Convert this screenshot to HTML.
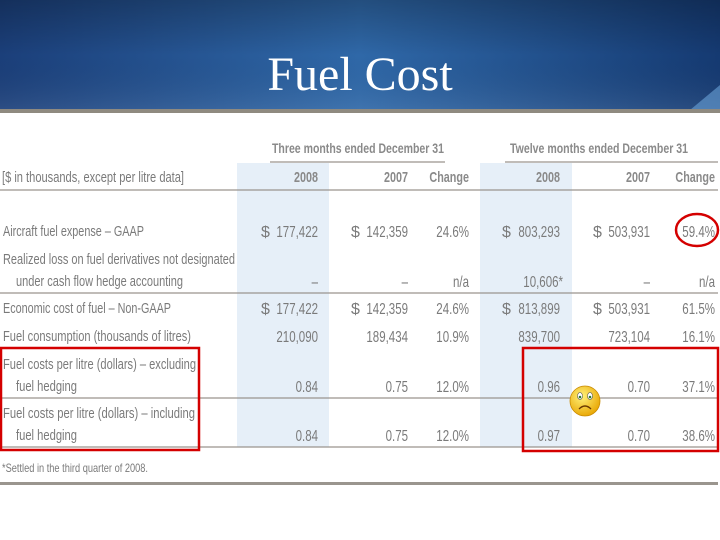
<!DOCTYPE html>
<html><head><meta charset="utf-8"><style>
html,body{margin:0;padding:0;width:720px;height:540px;overflow:hidden;background:#fff}
svg{display:block}
</style></head><body>
<svg width="720" height="540" viewBox="0 0 720 540" xmlns="http://www.w3.org/2000/svg">
<defs>
<linearGradient id="bg" x1="0" y1="0" x2="1" y2="0">
<stop offset="0" stop-color="#1b3f7a"/><stop offset="0.5" stop-color="#2f68a8"/><stop offset="1" stop-color="#153a72"/>
</linearGradient>
<linearGradient id="bgv" x1="0" y1="0" x2="0" y2="1">
<stop offset="0" stop-color="#000" stop-opacity="0.25"/><stop offset="0.5" stop-color="#000" stop-opacity="0"/><stop offset="1" stop-color="#fff" stop-opacity="0.08"/>
</linearGradient>
<radialGradient id="face" cx="0.4" cy="0.35" r="0.7"><stop offset="0" stop-color="#fff27a"/><stop offset="1" stop-color="#e8a400"/></radialGradient>
</defs>
<g>
<rect x="0" y="0" width="720" height="110" fill="url(#bg)"/>
<rect x="0" y="0" width="720" height="110" fill="url(#bgv)"/>
<path d="M690 110 L720 85 L720 110 Z" fill="#6aa3d8" opacity="0.6"/>
<rect x="0" y="109" width="720" height="4" fill="#8f8a80"/>
<text x="360" y="90" text-anchor="middle" font-family="Liberation Serif, serif" font-size="48" fill="#fff">Fuel Cost</text>
</g>
<g fill="#e6eff8">
<rect x="237" y="163" width="92" height="284"/>
<rect x="480" y="163" width="92" height="284"/>
</g>
<g stroke="#9a958e" stroke-width="1.2">
<line x1="270" y1="162" x2="445" y2="162"/>
<line x1="505" y1="162" x2="718" y2="162"/>
<line x1="0" y1="190" x2="718" y2="190"/>
<line x1="0" y1="293" x2="718" y2="293"/>
<line x1="0" y1="398" x2="718" y2="398"/>
<line x1="0" y1="447" x2="718" y2="447"/>
</g>
<rect x="0" y="482" width="718" height="3" fill="#9a958e"/>
<g font-family="Liberation Sans, sans-serif" font-size="16" fill="#7a7a7a">
<g font-weight="bold" fill="#8a8a8a" font-size="15" class="cond">
<text x="358" y="153" font-size="14" text-anchor="middle" textLength="172" lengthAdjust="spacingAndGlyphs">Three months ended December 31</text>
<text x="599" y="153" font-size="14" text-anchor="middle" textLength="178" lengthAdjust="spacingAndGlyphs">Twelve months ended December 31</text>
<text x="318" y="182" text-anchor="end">2008</text>
<text x="408" y="182" text-anchor="end">2007</text>
<text x="469" y="182" text-anchor="end">Change</text>
<text x="560" y="182" text-anchor="end">2008</text>
<text x="650" y="182" text-anchor="end">2007</text>
<text x="715" y="182" text-anchor="end">Change</text>
</g>
<g font-size="15">
<text x="2" y="182" textLength="182" lengthAdjust="spacingAndGlyphs">[$ in thousands, except per litre data]</text>
<g>
<text x="3" y="236" textLength="141" lengthAdjust="spacingAndGlyphs">Aircraft fuel expense – GAAP</text>
<text x="3" y="264" textLength="232" lengthAdjust="spacingAndGlyphs">Realized loss on fuel derivatives not designated</text>
<text x="16" y="286" textLength="167" lengthAdjust="spacingAndGlyphs">under cash flow hedge accounting</text>
<text x="3" y="313" textLength="168" lengthAdjust="spacingAndGlyphs">Economic cost of fuel – Non-GAAP</text>
<text x="3" y="341" textLength="188" lengthAdjust="spacingAndGlyphs">Fuel consumption (thousands of litres)</text>
<text x="3" y="369" textLength="193" lengthAdjust="spacingAndGlyphs">Fuel costs per litre (dollars) – excluding</text>
<text x="16" y="391" textLength="61" lengthAdjust="spacingAndGlyphs">fuel hedging</text>
<text x="3" y="418" textLength="192" lengthAdjust="spacingAndGlyphs">Fuel costs per litre (dollars) – including</text>
<text x="16" y="440" textLength="61" lengthAdjust="spacingAndGlyphs">fuel hedging</text>
</g>
</g>
<g>
<text x="261" y="237">$</text><text x="351" y="237">$</text><text x="502" y="237">$</text><text x="593" y="237">$</text>
<text x="261" y="314">$</text><text x="351" y="314">$</text><text x="502" y="314">$</text><text x="593" y="314">$</text>
</g>
<g text-anchor="end" class="cond">
<text x="318" y="237">177,422</text><text x="408" y="237">142,359</text><text x="469" y="237">24.6%</text><text x="560" y="237">803,293</text><text x="650" y="237">503,931</text><text x="715" y="237">59.4%</text>
<text x="318" y="287">–</text><text x="408" y="287">–</text><text x="469" y="287">n/a</text><text x="563" y="287">10,606*</text><text x="650" y="287">–</text><text x="715" y="287">n/a</text>
<text x="318" y="314">177,422</text><text x="408" y="314">142,359</text><text x="469" y="314">24.6%</text><text x="560" y="314">813,899</text><text x="650" y="314">503,931</text><text x="715" y="314">61.5%</text>
<text x="318" y="342">210,090</text><text x="408" y="342">189,434</text><text x="469" y="342">10.9%</text><text x="560" y="342">839,700</text><text x="650" y="342">723,104</text><text x="715" y="342">16.1%</text>
<text x="318" y="392">0.84</text><text x="408" y="392">0.75</text><text x="469" y="392">12.0%</text><text x="560" y="392">0.96</text><text x="650" y="392">0.70</text><text x="715" y="392">37.1%</text>
<text x="318" y="441">0.84</text><text x="408" y="441">0.75</text><text x="469" y="441">12.0%</text><text x="560" y="441">0.97</text><text x="650" y="441">0.70</text><text x="715" y="441">38.6%</text>
</g>
<text x="2" y="472" font-size="12" textLength="146" lengthAdjust="spacingAndGlyphs">*Settled in the third quarter of 2008.</text>
</g>
<g fill="none" stroke="#d40000" stroke-width="2.5">
<rect x="1" y="348" width="198" height="102"/>
<rect x="523" y="348" width="195" height="103"/>
<ellipse cx="697" cy="230" rx="21" ry="16"/>
</g>
<g>
<circle cx="585" cy="401" r="15" fill="url(#face)" stroke="#c88a00" stroke-width="0.8"/>
<ellipse cx="580" cy="396" rx="2.5" ry="3.5" fill="#fff" stroke="#555" stroke-width="0.6"/>
<ellipse cx="590" cy="396" rx="2.5" ry="3.5" fill="#fff" stroke="#555" stroke-width="0.6"/>
<circle cx="580" cy="397" r="1.3" fill="#2a7a2a"/><circle cx="590" cy="397" r="1.3" fill="#2a7a2a"/>
<path d="M579 409 Q585 403 591 409" fill="none" stroke="#6a3a00" stroke-width="1.3"/>
</g>
</svg>
<script>
document.querySelectorAll('g.cond > text').forEach(function(t){
  if (t.hasAttribute('textLength')) return;
  var w = t.getComputedTextLength();
  t.setAttribute('textLength', (w * 0.72).toFixed(1));
  t.setAttribute('lengthAdjust', 'spacingAndGlyphs');
});
</script>
</body></html>
